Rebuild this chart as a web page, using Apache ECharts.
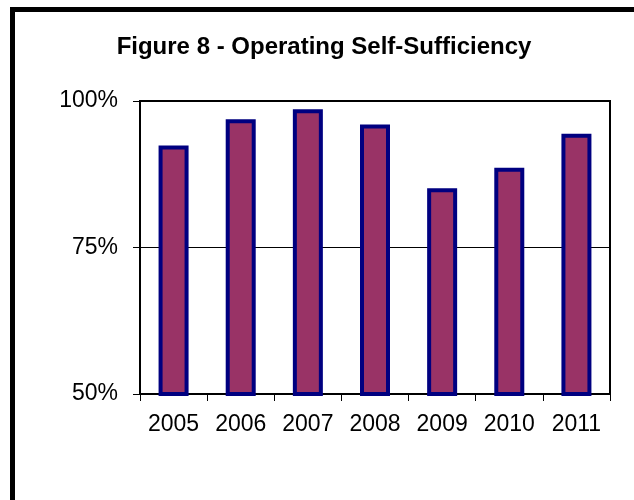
<!DOCTYPE html>
<html>
<head>
<meta charset="utf-8">
<script src="https://cdn.jsdelivr.net/npm/echarts@6/dist/echarts.min.js"></script>
<style>
  html, body { margin: 0; padding: 0; background: #fff; }
  #chart { width: 634px; height: 500px; }
</style>
</head>
<body>
<div id="chart"></div>
<script>
const titleText = 'Figure 8 - Operating Self-Sufficiency';
const years = ['2005', '2006', '2007', '2008', '2009', '2010', '2011'];
const selfSufficiency = [92.4, 96.9, 98.6, 96.0, 85.1, 88.6, 94.4];
const yMin = 50, yMax = 100, yStep = 25;

const FONT = '"Liberation Sans", Arial, sans-serif';
const chart = echarts.init(document.getElementById('chart'), null, { renderer: 'canvas' });

chart.setOption({
  backgroundColor: '#ffffff',
  animation: false,
  title: {
    text: titleText,
    left: 324,
    textAlign: 'center',
    top: 35,
    padding: 0,
    textStyle: { fontFamily: FONT, fontSize: 24, fontWeight: 'bold', color: '#000' }
  },
  graphic: [{
    type: 'rect',
    shape: { x: 12.5, y: 9.5, width: 700, height: 600 },
    style: { fill: null, stroke: '#000', lineWidth: 5 },
    z: 100
  }],
  grid: {
    left: 140, top: 101, width: 470, height: 293,
    show: true, borderColor: '#000', borderWidth: 2, backgroundColor: 'transparent'
  },
  xAxis: {
    type: 'category',
    data: years,
    boundaryGap: true,
    axisLine: { show: true, lineStyle: { color: '#000', width: 2 } },
    axisTick: { show: true, length: 7, lineStyle: { color: '#000', width: 1 } },
    axisLabel: { margin: 19, fontFamily: FONT, fontSize: 23, color: '#000' },
    splitLine: { show: false }
  },
  yAxis: {
    type: 'value',
    min: yMin, max: yMax, interval: yStep,
    axisLine: { show: true, lineStyle: { color: '#000', width: 2 } },
    axisTick: { show: true, length: 7, lineStyle: { color: '#000', width: 1 } },
    axisLabel: { margin: 22, fontFamily: FONT, fontSize: 23, color: '#000', formatter: '{value}%' },
    splitLine: { show: true, lineStyle: { color: '#000', width: 1 } }
  },
  series: [{
    type: 'bar',
    data: selfSufficiency,
    barWidth: 30,
    itemStyle: { color: '#993366', borderColor: '#000080', borderWidth: 4 }
  }]
});
</script>
</body>
</html>
